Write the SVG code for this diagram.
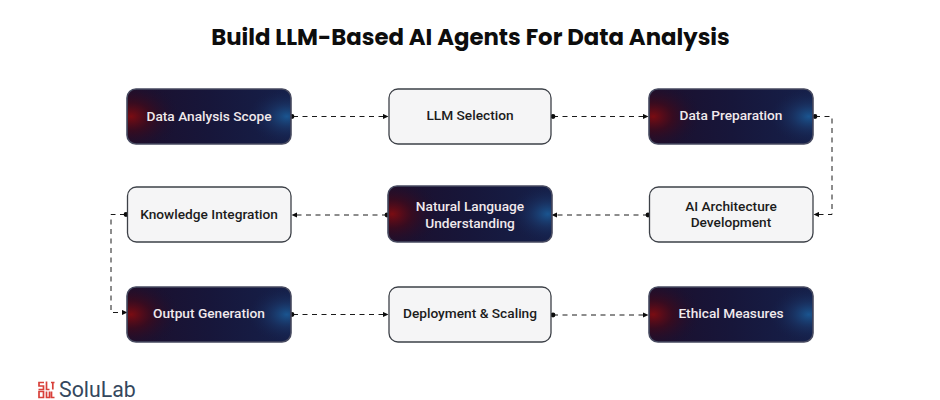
<svg xmlns="http://www.w3.org/2000/svg" width="940" height="400" viewBox="0 0 940 400">
<style>
text{font-family:Roboto,"Liberation Sans",sans-serif;text-anchor:middle}
.t{font-size:13.7px;font-weight:500}
.d{fill:#f0e9ec}.l{fill:#1c1c1c}
.bl{fill:#f5f5f6;stroke:#3d4148;stroke-width:1.3}
.bd{fill:url(#base);stroke:#474a60;stroke-width:1.6}
.ov{stroke:none}
.c{fill:none;stroke:#1a1a1a;stroke-width:1;stroke-dasharray:5 4.500}
.dot{fill:#0c0c0c}
.ar{fill:#0c0c0c}
</style>
<defs>
<linearGradient id="base" x1="0" x2="1" y1="0" y2="0"><stop offset="0" stop-color="#1c0f2c"/><stop offset="0.5" stop-color="#17163a"/><stop offset="1" stop-color="#15204a"/></linearGradient>
<radialGradient id="red" cx="0.02" cy="0.5" r="0.3" gradientTransform="translate(0 0.5) scale(1 2.2) translate(0 -0.5)"><stop offset="0" stop-color="#7a0c12"/><stop offset="0.4" stop-color="#3e0a1c" stop-opacity="0.8"/><stop offset="1" stop-color="#1a1030" stop-opacity="0"/></radialGradient>
<radialGradient id="blue" cx="0.98" cy="0.5" r="0.24" gradientTransform="translate(0 0.5) scale(1 2.2) translate(0 -0.5)"><stop offset="0" stop-color="#1a5590"/><stop offset="0.45" stop-color="#1a3566" stop-opacity="0.7"/><stop offset="1" stop-color="#16204a" stop-opacity="0"/></radialGradient>
<marker id="arrow" markerWidth="6" markerHeight="6" refX="5" refY="3" orient="auto" markerUnits="userSpaceOnUse"><path class="ar" d="M0 0.4L5.500 3L0 5.600z"/></marker>
</defs>
<rect width="940" height="400" fill="#fff"/>
<text x="470.500" y="45" font-size="22.8" font-weight="700" fill="#0d0d0d" style="font-family:Poppins,Inter,'Open Sans',sans-serif">Build LLM-Based AI Agents For Data Analysis</text>
<g id="connectors">
<path class="c" marker-end="url(#arrow)" d="M293 116.500H388"/>
<path class="c" marker-end="url(#arrow)" d="M553 116.500H648"/>
<path class="c" marker-end="url(#arrow)" d="M815 116.500H832V214.500H814"/>
<path class="c" marker-end="url(#arrow)" d="M648 215H552"/>
<path class="c" marker-end="url(#arrow)" d="M387 215H292"/>
<path class="c" marker-end="url(#arrow)" d="M125 214.500H111V312.500H127"/>
<path class="c" marker-end="url(#arrow)" d="M293 314.500H388"/>
<path class="c" marker-end="url(#arrow)" d="M553 315H648"/>
<g class="dot"><circle cx="292" cy="116.500" r="2.400"/><circle cx="553" cy="116.500" r="2.400"/><circle cx="815" cy="116.500" r="2.400"/><circle cx="648" cy="215" r="2.400"/><circle cx="387" cy="215" r="2.400"/><circle cx="126" cy="214.500" r="2.400"/><circle cx="292" cy="314.500" r="2.400"/><circle cx="553" cy="315" r="2.400"/></g>
</g>
<g id="n1"><rect class="bd" x="127" y="89" width="164" height="55" rx="9"/><rect class="ov" fill="url(#red)" x="128" y="90" width="162" height="53" rx="8"/><rect class="ov" fill="url(#blue)" x="128" y="90" width="162" height="53" rx="8"/><text class="t d" x="209" y="121">Data Analysis Scope</text></g>
<g id="n2"><rect class="bl" x="389" y="89" width="162" height="55" rx="9"/><text class="t l" x="470" y="120">LLM Selection</text></g>
<g id="n3"><rect class="bd" x="649" y="89" width="164" height="55" rx="9"/><rect class="ov" fill="url(#red)" x="650" y="90" width="162" height="53" rx="8"/><rect class="ov" fill="url(#blue)" x="650" y="90" width="162" height="53" rx="8"/><text class="t d" x="731" y="120">Data Preparation</text></g>
<g id="n4"><rect class="bl" x="649.500" y="187" width="163.500" height="55" rx="9"/><text class="t l" x="731" y="211">AI Architecture</text><text class="t l" x="731" y="227">Development</text></g>
<g id="n5"><rect class="bd" x="388" y="186" width="164" height="56" rx="9"/><rect class="ov" fill="url(#red)" x="389" y="187" width="162" height="54" rx="8"/><rect class="ov" fill="url(#blue)" x="389" y="187" width="162" height="54" rx="8"/><text class="t d" x="470" y="211">Natural Language</text><text class="t d" x="470" y="228">Understanding</text></g>
<g id="n6"><rect class="bl" x="127.500" y="187" width="163.500" height="55" rx="9"/><text class="t l" x="209" y="219">Knowledge Integration</text></g>
<g id="n7"><rect class="bd" x="127" y="287" width="164" height="55" rx="9"/><rect class="ov" fill="url(#red)" x="128" y="288" width="162" height="53" rx="8"/><rect class="ov" fill="url(#blue)" x="128" y="288" width="162" height="53" rx="8"/><text class="t d" x="209" y="318">Output Generation</text></g>
<g id="n8"><rect class="bl" x="389" y="287" width="162" height="55" rx="9"/><text class="t l" x="470" y="318">Deployment &amp; Scaling</text></g>
<g id="n9"><rect class="bd" x="649" y="287" width="164" height="55" rx="9"/><rect class="ov" fill="url(#red)" x="650" y="288" width="162" height="53" rx="8"/><rect class="ov" fill="url(#blue)" x="650" y="288" width="162" height="53" rx="8"/><text class="t d" x="731" y="318">Ethical Measures</text></g>
<g id="logo">
<g fill="none" stroke="#d8403a" stroke-width="1.700">
<path d="M44 382.500H39V386H43.500V389.500H38.500M46.500 381.500V389.500H49.500M51 382.500H54.500M52.800 382.500V389.500"/>
<path d="M39 391.500V397.500H43.500V391.500zM46.500 391.500V397.500H49.500V391.500M51.500 391.500V397.500H54.500"/>
</g>
<text x="59" y="396.500" font-size="21.3" fill="#34475d" style="text-anchor:start">SoluLab</text>
</g>
</svg>
